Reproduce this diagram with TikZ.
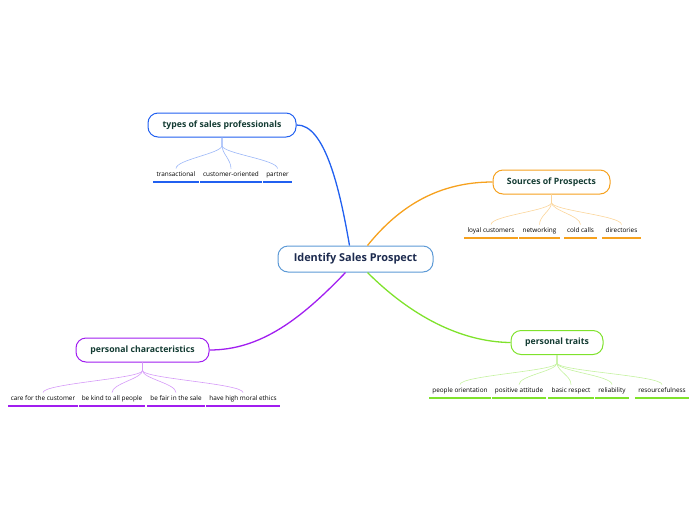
\documentclass[tikz,border=0pt]{standalone}
\usepackage{fontspec}
\setmainfont{Open Sans}
\definecolor{cblue}{HTML}{5D9AD6}
\definecolor{cnavy}{HTML}{1D2B4F}
\definecolor{ctext}{HTML}{143C33}
\definecolor{bl}{HTML}{2160F0}
\definecolor{orn}{HTML}{F6A11E}
\definecolor{grn}{HTML}{7FE22C}
\definecolor{pur}{HTML}{A11EF0}
\begin{document}
\begin{tikzpicture}[x=1pt,y=-1pt,
  hub/.style={draw=cblue,line width=1pt,rounded corners=10pt,fill=white,minimum width=155pt,minimum height=26pt,font=\fontsize{10.9}{12}\selectfont\bfseries,text=cnavy},
  topic/.style={draw=#1,line width=1pt,rounded corners=10pt,fill=white,minimum height=24pt,font=\fontsize{8.7}{10}\selectfont\bfseries,text=ctext},
  leaf/.style={inner xsep=3pt,inner ysep=0pt,text height=5pt,text depth=1.5pt,font=\fontsize{6.4}{7}\selectfont},
  uline/.style={fill=#1},
  main/.style={line width=1.3pt,draw=#1},
  sub/.style={line width=0.6pt,draw=#1!45}
]
\useasboundingbox (0,0) rectangle (696,520);

% hub
\node[hub] (hub) at (355.5,259) {Identify Sales Prospect};

% topics
\node[topic=bl,minimum width=148pt] (types) at (222,125) {types of sales professionals};
\node[topic=orn,minimum width=117pt] (src) at (551.5,182) {Sources of Prospects};
\node[topic=grn,minimum width=92pt] (traits) at (557,342.5) {personal traits};
\node[topic=pur,minimum width=133pt] (chars) at (142.5,350) {personal characteristics};

% main connectors
\draw[main=bl] (types.east) .. controls (325,124) and (340,190) .. ([xshift=-6pt]hub.north);
\draw[main=orn] ([xshift=12pt]hub.north) .. controls (400,205) and (440,182) .. (src.west);
\draw[main=grn] ([xshift=12pt]hub.south) .. controls (410,315) and (460,342) .. (traits.west);
\draw[main=pur] ([xshift=-10pt]hub.south) .. controls (300,320) and (260,350) .. (chars.east);

% leaves: types
\node[leaf] (t1) at (176,175) {transactional};
\node[leaf] (t2) at (231,175) {customer-oriented};
\node[leaf] (t3) at (277.5,175) {partner};
% leaves: sources
\node[leaf] (s1) at (491,231) {loyal customers};
\node[leaf] (s2) at (539.5,231) {networking};
\node[leaf] (s3) at (580.5,231) {cold calls};
\node[leaf] (s4) at (621.5,231) {directories};
% leaves: traits
\node[leaf] (p1) at (460,391) {people orientation};
\node[leaf] (p2) at (519,391) {positive attitude};
\node[leaf] (p3) at (571,391) {basic respect};
\node[leaf] (p4) at (612,391) {reliability};
\node[leaf] (p5) at (662,391) {resourcefulness};
% leaves: characteristics
\node[leaf] (c1) at (43,399) {care for the customer};
\node[leaf] (c2) at (112,399) {be kind to all people};
\node[leaf] (c3) at (176,399) {be fair in the sale};
\node[leaf] (c4) at (243,399) {have high moral ethics};

% underlines
\foreach \c in {t1,t2,t3}{\fill[uline=bl] ([yshift=-3pt]\c.south west) rectangle ([yshift=-5pt]\c.south east);}
\foreach \c in {s1,s2,s3,s4}{\fill[uline=orn] ([yshift=-3pt]\c.south west) rectangle ([yshift=-5pt]\c.south east);}
\foreach \c in {p1,p2,p3,p4,p5}{\fill[uline=grn] ([yshift=-3pt]\c.south west) rectangle ([yshift=-5pt]\c.south east);}
\foreach \c in {c1,c2,c3,c4}{\fill[uline=pur] ([yshift=-3pt]\c.south west) rectangle ([yshift=-5pt]\c.south east);}

% sub connectors
\foreach \c in {t1,t2,t3}{
  \draw[sub=bl] (types.south) -- ++(0,8) .. controls ++(0,8) and ([yshift=12pt]\c.north) .. ([yshift=3pt]\c.north);}
\foreach \c in {s1,s2,s3,s4}{
  \draw[sub=orn] (src.south) -- ++(0,8) .. controls ++(0,8) and ([yshift=12pt]\c.north) .. ([yshift=3pt]\c.north);}
\foreach \c in {p1,p2,p3,p4,p5}{
  \draw[sub=grn] (traits.south) -- ++(0,8) .. controls ++(0,8) and ([yshift=12pt]\c.north) .. ([yshift=3pt]\c.north);}
\foreach \c in {c1,c2,c3,c4}{
  \draw[sub=pur] (chars.south) -- ++(0,8) .. controls ++(0,8) and ([yshift=12pt]\c.north) .. ([yshift=3pt]\c.north);}
\end{tikzpicture}
\end{document}
